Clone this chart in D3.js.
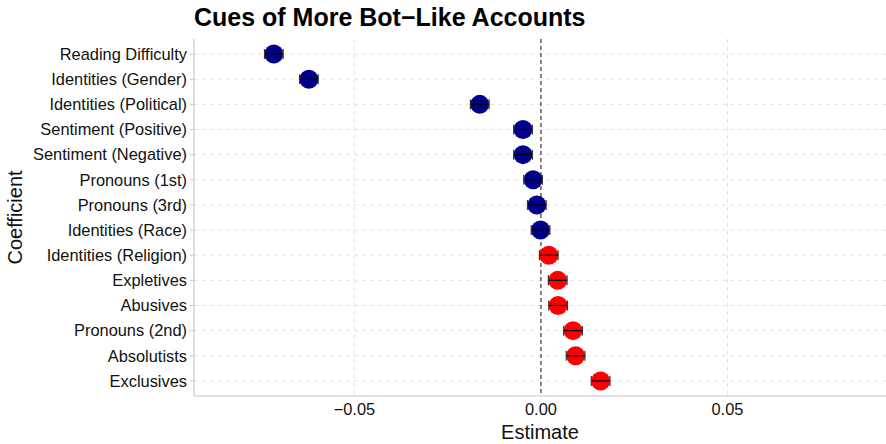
<!DOCTYPE html>
<html>
<head>
<meta charset="utf-8">
<script src="https://cdn.jsdelivr.net/npm/d3@7"></script>
<style>
  html, body { margin: 0; padding: 0; background: #fff; }
  svg { display: block; font-family: "Liberation Sans", Arial, sans-serif; }
</style>
</head>
<body>
<svg id="chart" width="886" height="444"></svg>
<script>
// Regression coefficients with 95% intervals
const categories = [
  "Reading Difficulty", "Identities (Gender)", "Identities (Political)",
  "Sentiment (Positive)", "Sentiment (Negative)", "Pronouns (1st)",
  "Pronouns (3rd)", "Identities (Race)", "Identities (Religion)",
  "Expletives", "Abusives", "Pronouns (2nd)", "Absolutists", "Exclusives"
];
const estimates = [-0.0716, -0.0622, -0.0164, -0.0048, -0.0048, -0.0021,
  -0.0011, -0.0001, 0.0021, 0.0045, 0.0046, 0.0086, 0.0093, 0.0160];
const lower = [-0.0741, -0.0647, -0.0189, -0.0073, -0.0073, -0.0046,
  -0.0036, -0.0026, -0.0004, 0.0020, 0.0021, 0.0061, 0.0068, 0.0135];
const upper = [-0.0691, -0.0597, -0.0139, -0.0023, -0.0023, 0.0004,
  0.0014, 0.0024, 0.0046, 0.0070, 0.0071, 0.0111, 0.0118, 0.0185];
const xTicks = [-0.05, 0, 0.05];
const xTickLabels = ["\u22120.05", "0.00", "0.05"];

const rows = categories.map((c, i) => ({
  name: c, est: estimates[i], lo: lower[i], hi: upper[i]
}));

const svg = d3.select("#chart");
const margin = { top: 39, right: 0, bottom: 48, left: 194 };
const W = 886, H = 444;
const pw = W - margin.left - margin.right;
const ph = H - margin.top - margin.bottom;

const x = d3.scaleLinear().domain([-0.093, 0.0925]).range([0, pw]);
const y = d3.scalePoint().domain(categories).range([0, ph]).padding(0.6);

const g = svg.append("g").attr("transform", `translate(${margin.left},${margin.top})`);

// grid
g.selectAll(".hgrid").data(categories).join("line")
  .attr("x1", 0).attr("x2", pw)
  .attr("y1", d => y(d)).attr("y2", d => y(d))
  .attr("stroke", "#e3e3e3").attr("stroke-width", 1)
  .attr("stroke-dasharray", "4,4");
g.selectAll(".vgrid").data(xTicks.filter(t => t !== 0)).join("line")
  .attr("x1", d => x(d)).attr("x2", d => x(d))
  .attr("y1", 0).attr("y2", ph)
  .attr("stroke", "#e3e3e3").attr("stroke-width", 1)
  .attr("stroke-dasharray", "4,4");

// zero reference line
g.append("line")
  .attr("x1", x(0)).attr("x2", x(0)).attr("y1", 0).attr("y2", ph)
  .attr("stroke", "#444").attr("stroke-width", 1.3)
  .attr("stroke-dasharray", "4,3");

// axis lines
g.append("line").attr("x1", 0).attr("x2", 0).attr("y1", 0).attr("y2", ph)
  .attr("stroke", "#c8c8c8").attr("stroke-width", 1.2);
g.append("line").attr("x1", 0).attr("x2", pw).attr("y1", ph).attr("y2", ph)
  .attr("stroke", "#c8c8c8").attr("stroke-width", 1.2);

// y axis ticks and labels
const yAxis = g.append("g");
yAxis.selectAll("line").data(categories).join("line")
  .attr("x1", -4).attr("x2", 0)
  .attr("y1", d => y(d)).attr("y2", d => y(d))
  .attr("stroke", "#c8c8c8");
yAxis.selectAll("text").data(categories).join("text")
  .attr("x", -7).attr("y", d => y(d))
  .attr("dy", "0.35em").attr("text-anchor", "end")
  .attr("font-size", 16.4).attr("fill", "#111")
  .text(d => d);

// x axis labels
g.selectAll(".xlab").data(xTicks).join("text")
  .attr("x", d => x(d)).attr("y", ph + 19)
  .attr("text-anchor", "middle")
  .attr("font-size", 16.4).attr("fill", "#111")
  .text((d, i) => xTickLabels[i]);

// points
const pts = g.selectAll(".pt").data(rows).join("g")
  .attr("transform", d => `translate(0,${y(d.name)})`);
pts.append("circle")
  .attr("cx", d => x(d.est)).attr("cy", 0).attr("r", 9.5)
  .attr("fill", d => d.est > 0 ? "#ff0000" : "#00008b");
pts.append("line")
  .attr("x1", d => x(d.lo)).attr("x2", d => x(d.hi))
  .attr("y1", 0).attr("y2", 0)
  .attr("stroke", "#000").attr("stroke-width", 1.2);
pts.append("line")
  .attr("x1", d => x(d.lo)).attr("x2", d => x(d.lo))
  .attr("y1", -5).attr("y2", 5)
  .attr("stroke", "#333").attr("stroke-width", 1.2);
pts.append("line")
  .attr("x1", d => x(d.hi)).attr("x2", d => x(d.hi))
  .attr("y1", -5).attr("y2", 5)
  .attr("stroke", "#333").attr("stroke-width", 1.2);

// titles
svg.append("text")
  .attr("x", margin.left).attr("y", 26)
  .attr("font-size", 25).attr("font-weight", "bold").attr("fill", "#000")
  .text("Cues of More Bot\u2212Like Accounts");
svg.append("text")
  .attr("x", margin.left + pw / 2).attr("y", 439)
  .attr("text-anchor", "middle").attr("font-size", 20).attr("fill", "#111")
  .text("Estimate");
svg.append("text")
  .attr("transform", `translate(22,${margin.top + ph / 2}) rotate(-90)`)
  .attr("text-anchor", "middle").attr("font-size", 20).attr("fill", "#111")
  .text("Coefficient");
</script>
</body>
</html>
